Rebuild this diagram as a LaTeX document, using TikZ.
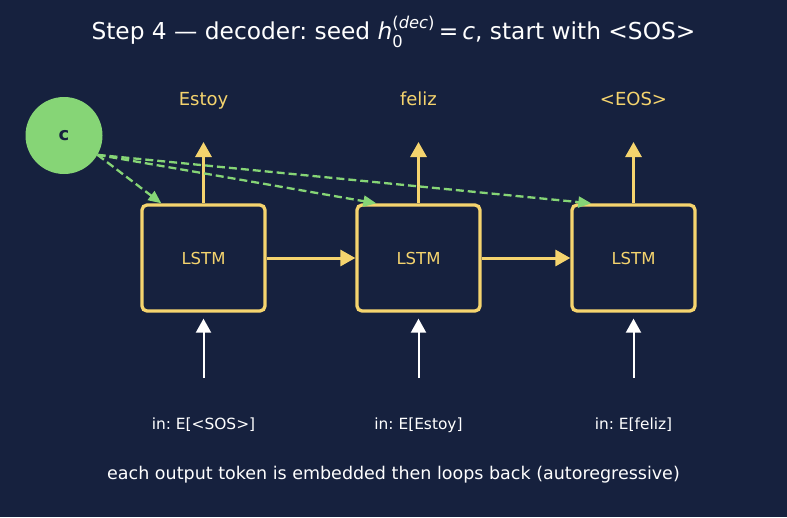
\documentclass[tikz,border=0pt]{standalone}
\usepackage{amsmath}
\usepackage{fontspec}
\setmainfont{DejaVu Sans}
\usetikzlibrary{arrows.meta, positioning}
\frenchspacing

\definecolor{bgnavy}{HTML}{16213E}
\definecolor{lstmyellow}{HTML}{F5D46E}
\definecolor{ctxgreen}{HTML}{86D576}

\tikzset{
  lstm/.style = {draw = lstmyellow, line width = 3.3pt, rounded corners = 5pt,
                 fill = bgnavy, minimum width = 123pt, minimum height = 106pt,
                 text = lstmyellow, font = \fontsize{16.5}{20}\selectfont},
  outword/.style = {text = lstmyellow, font = \fontsize{18}{22}\selectfont,
                    text height = 0.76em, text depth = 0.24em},
  inword/.style = {text = white, font = \fontsize{15.4}{18}\selectfont},
  ctx/.style = {circle, fill = ctxgreen, minimum size = 77pt, text = bgnavy,
                font = \fontsize{18}{22}\selectfont\bfseries},
  yarrow/.style = {draw = lstmyellow, line width = 3pt,
                   -{Triangle[length = 15pt, width = 16pt, fill = lstmyellow]}},
  warrow/.style = {draw = white, line width = 2pt,
                   -{Triangle[length = 14pt, width = 15pt, fill = white]}},
  garrow/.style = {draw = ctxgreen, line width = 2.3pt, dash pattern = on 8pt off 4pt,
                   -{Triangle[length = 13pt, width = 11pt, fill = ctxgreen]}}
}

\begin{document}
\begin{tikzpicture}[x = 1pt, y = -1pt, node distance = 215pt, on grid]
  \fill[bgnavy] (0,0) rectangle (787,517);
  \useasboundingbox (0,0) rectangle (787,517);

  \node[text = white, font = \fontsize{23.3}{27}\selectfont] (title) at (393.5,32)
    {Step 4 --- decoder: seed $\textit{h}_{\textrm{0}}^{\textrm{(}\textit{dec}\textrm{)}}$\,=\,\textit{c}, start with <SOS>};

  % decoder cells
  \node[lstm] (l1) at (203.5,258) {LSTM};
  \node[lstm] (l2) [right=of l1] {LSTM};
  \node[lstm] (l3) [right=of l2] {LSTM};

  % outputs
  \node[outword] (o1) [above=155pt of l1] {Estoy};
  \node[outword] (o2) [above=155pt of l2] {feliz};
  \node[outword] (o3) [above=155pt of l3] {<EOS>};
  \coordinate[above=116pt of l1] (u1);
  \coordinate[above=116pt of l2] (u2);
  \coordinate[above=116pt of l3] (u3);

  % inputs
  \node[inword] (i1) [below=167pt of l1] {in: E[<SOS>]};
  \node[inword] (i2) [below=167pt of l2] {in: E[Estoy]};
  \node[inword] (i3) [below=167pt of l3] {in: E[feliz]};
  \coordinate[below=120pt of l1] (s1);
  \coordinate[below=120pt of l2] (s2);
  \coordinate[below=120pt of l3] (s3);

  % context vector
  \node[ctx] (c) at (64,135.5) {c};

  \draw[yarrow] (l1) -- (l2);
  \draw[yarrow] (l2) -- (l3);
  \draw[yarrow] (l1.north) -- (u1);
  \draw[yarrow] (l2.north) -- (u2);
  \draw[yarrow] (l3.north) -- (u3);
  \draw[warrow, shorten >= 6pt] (s1) -- (l1.south);
  \draw[warrow, shorten >= 6pt] (s2) -- (l2.south);
  \draw[warrow, shorten >= 6pt] (s3) -- (l3.south);
  \draw[garrow] (c.-30) -- ([xshift=21pt]l1.north west);
  \draw[garrow] (c.-30) -- ([xshift=21pt]l2.north west);
  \draw[garrow] (c.-30) -- ([xshift=21pt]l3.north west);

  \node[text = white, font = \fontsize{17.5}{21}\selectfont] (note) at (393.5,475)
    {each output token is embedded then loops back (autoregressive)};
\end{tikzpicture}
\end{document}
